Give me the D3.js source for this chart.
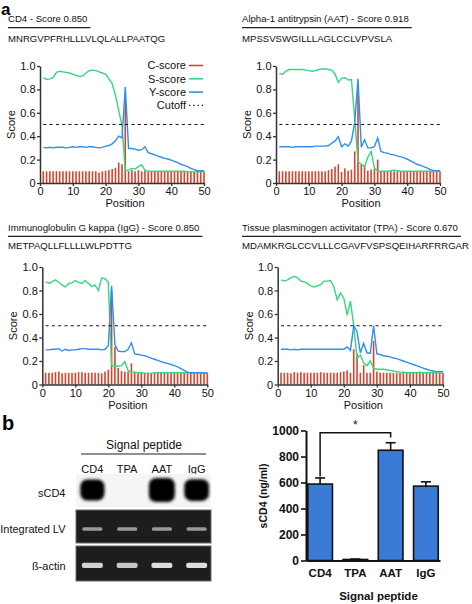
<!DOCTYPE html>
<html><head><meta charset="utf-8">
<script src="https://cdn.jsdelivr.net/npm/d3@7"></script>
<style>
body{margin:0;background:#fff;}
svg{display:block;font-family:"Liberation Sans",Arial,Helvetica,sans-serif;}
</style></head><body>
<svg id="c" width="472" height="604"></svg>
<script>
// ---------------- DATA ----------------
const positions = d3.range(1, 51);
const xTicks = [0, 10, 20, 30, 40, 50];
const yTicks = [0, 0.2, 0.4, 0.6, 0.8, 1.0];
const legendLabels = ["C-score", "S-score", "Y-score", "Cutoff"];
const cutoff = 0.5;

const cd4Title = "CD4 - Score 0.850";
const cd4Seq = "MNRGVPFRHLLLVLQLALLPAATQG";
const cd4C = [0.10,0.10,0.10,0.10,0.10,0.10,0.10,0.10,0.10,0.10,
              0.10,0.10,0.10,0.10,0.10,0.10,0.10,0.09,0.10,0.105,
              0.11,0.12,0.13,0.175,0.16,0.72,0.10,0.11,0.10,0.11,
              0.10,0.105,0.10,0.10,0.10,0.10,0.10,0.10,0.10,0.10,
              0.10,0.10,0.10,0.10,0.10,0.10,0.10,0.10,0.10,0.10];
const cd4S = [0.90,0.885,0.89,0.90,0.945,0.955,0.95,0.945,0.94,0.93,
              0.92,0.91,0.915,0.94,0.96,0.965,0.96,0.95,0.94,0.93,
              0.89,0.85,0.75,0.62,0.49,0.105,0.11,0.125,0.12,0.14,
              0.155,0.11,0.10,0.10,0.10,0.10,0.10,0.10,0.10,0.10,
              0.10,0.10,0.10,0.10,0.095,0.095,0.095,0.095,0.095,0.095];
const cd4Y = [0.305,0.30,0.305,0.30,0.305,0.305,0.305,0.30,0.305,0.31,
              0.305,0.31,0.31,0.305,0.31,0.31,0.305,0.30,0.305,0.315,
              0.32,0.335,0.36,0.40,0.385,0.82,0.295,0.295,0.29,0.28,
              0.285,0.31,0.26,0.25,0.24,0.23,0.22,0.21,0.205,0.195,
              0.185,0.175,0.16,0.15,0.14,0.125,0.115,0.105,0.105,0.105];

const aatTitle = "Alpha-1 antitrypsin (AAT) - Score 0.918";
const aatSeq = "MPSSVSWGILLLAGLCCLVPVSLA";
const aatC = [0.10,0.10,0.10,0.10,0.10,0.10,0.10,0.10,0.10,0.10,
              0.10,0.10,0.10,0.10,0.10,0.11,0.12,0.14,0.16,0.095,
              0.125,0.105,0.115,0.27,0.80,0.155,0.15,0.105,0.115,0.12,
              0.20,0.10,0.10,0.10,0.10,0.10,0.10,0.10,0.10,0.10,
              0.10,0.10,0.10,0.10,0.10,0.10,0.10,0.10,0.10,0.10];
const aatS = [0.935,0.93,0.955,0.97,0.97,0.97,0.97,0.97,0.965,0.96,
              0.955,0.96,0.97,0.975,0.975,0.97,0.965,0.93,0.86,0.895,
              0.90,0.88,0.885,0.55,0.18,0.16,0.14,0.22,0.27,0.13,
              0.10,0.10,0.10,0.10,0.105,0.11,0.105,0.10,0.10,0.10,
              0.10,0.10,0.10,0.10,0.10,0.10,0.10,0.10,0.10,0.10];
const aatY = [0.31,0.31,0.31,0.31,0.305,0.31,0.31,0.31,0.31,0.31,
              0.31,0.315,0.315,0.315,0.315,0.32,0.34,0.36,0.395,0.31,
              0.335,0.315,0.36,0.52,0.89,0.305,0.37,0.30,0.30,0.31,
              0.385,0.27,0.26,0.255,0.245,0.24,0.23,0.225,0.215,0.205,
              0.19,0.175,0.16,0.15,0.14,0.13,0.115,0.108,0.105,0.105];

const igTitle = "Immunoglobulin G kappa (IgG) - Score 0.850";
const igSeq = "METPAQLLFLLLLWLPDTTG";
const igC = [0.10,0.10,0.10,0.105,0.11,0.095,0.10,0.10,0.10,0.10,
             0.105,0.105,0.10,0.10,0.10,0.10,0.10,0.095,0.11,0.125,
             0.80,0.32,0.14,0.115,0.11,0.11,0.18,0.105,0.10,0.10,
             0.10,0.10,0.095,0.10,0.10,0.10,0.10,0.10,0.10,0.10,
             0.10,0.10,0.10,0.10,0.10,0.10,0.10,0.10,0.10,0.10];
const igS = [0.875,0.86,0.875,0.89,0.87,0.845,0.83,0.86,0.865,0.885,
             0.87,0.86,0.885,0.86,0.835,0.845,0.80,0.905,0.90,0.87,
             0.16,0.155,0.155,0.16,0.195,0.12,0.105,0.105,0.10,0.10,
             0.095,0.095,0.095,0.10,0.10,0.10,0.10,0.10,0.10,0.10,
             0.10,0.10,0.10,0.10,0.10,0.10,0.10,0.10,0.10,0.10];
const igY = [0.295,0.295,0.30,0.30,0.305,0.285,0.30,0.29,0.295,0.295,
             0.30,0.305,0.305,0.30,0.30,0.30,0.30,0.295,0.30,0.33,
             0.84,0.34,0.285,0.28,0.28,0.30,0.355,0.26,0.255,0.25,
             0.245,0.235,0.225,0.215,0.205,0.195,0.185,0.18,0.17,0.16,
             0.15,0.135,0.12,0.105,0.10,0.10,0.10,0.10,0.098,0.098];

const tpTitle = "Tissue plasminogen activitator (TPA) - Score 0.670";
const tpSeq = "MDAMKRGLCCVLLLCGAVFVSPSQEIHARFRRGAR";
const tpC = [0.10,0.10,0.10,0.095,0.105,0.10,0.105,0.10,0.10,0.10,
             0.10,0.10,0.105,0.10,0.10,0.10,0.10,0.10,0.105,0.11,
             0.12,0.10,0.30,0.265,0.10,0.165,0.10,0.10,0.37,0.11,
             0.10,0.10,0.10,0.10,0.10,0.10,0.10,0.11,0.10,0.10,
             0.10,0.10,0.11,0.10,0.10,0.10,0.10,0.10,0.10,0.10];
const tpS = [0.89,0.88,0.89,0.91,0.92,0.91,0.88,0.875,0.86,0.84,
             0.83,0.84,0.85,0.88,0.88,0.885,0.83,0.72,0.78,0.735,
             0.59,0.71,0.50,0.225,0.25,0.185,0.16,0.20,0.14,0.13,
             0.13,0.13,0.125,0.12,0.115,0.11,0.105,0.103,0.10,0.10,
             0.10,0.10,0.10,0.10,0.10,0.10,0.10,0.098,0.098,0.098];
const tpY = [0.30,0.30,0.30,0.295,0.30,0.295,0.30,0.30,0.30,0.30,
             0.30,0.30,0.30,0.30,0.30,0.30,0.30,0.30,0.30,0.30,
             0.32,0.29,0.50,0.45,0.27,0.35,0.27,0.265,0.50,0.26,
             0.255,0.245,0.24,0.235,0.225,0.22,0.21,0.20,0.19,0.18,
             0.17,0.16,0.15,0.14,0.13,0.12,0.115,0.11,0.11,0.11];

// panel b
const gelLanes = ["CD4", "TPA", "AAT", "IgG"];
const gelRows = ["sCD4", "Integrated LV", "ß-actin"];
const sCD4Signal = [0.8, 0, 1.0, 0.85];
const lvSignal = [0.55, 0.55, 0.55, 0.55];
const actinSignal = [0.8, 0.75, 0.85, 0.85];

const barCats = ["CD4", "TPA", "AAT", "IgG"];
const barVals = [588, 8, 848, 572];
const barErr = [47, 3, 58, 33];
const barTicks = [0, 200, 400, 600, 800, 1000];

// ---------------- DRAW ----------------
const svg = d3.select("#c");
const colC = "#d4462f", colS = "#35d77e", colY = "#2e8ff0";
const axisCol = "#333";

svg.append("text").attr("x", 1).attr("y", 14.5).attr("font-size", 17).attr("font-weight", "bold").text("a");
svg.append("text").attr("x", 2).attr("y", 430).attr("font-size", 20).attr("font-weight", "bold").text("b");

const panels = [
  {title: cd4Title, seq: cd4Seq, C: cd4C, S: cd4S, Y: cd4Y, tx: 8, titleY: 22.3, seqY: 42.3, x0: 40, x1: 204, yTop: 66, yBot: 183, legend: true},
  {title: aatTitle, seq: aatSeq, C: aatC, S: aatS, Y: aatY, tx: 242, titleY: 22.3, seqY: 42.3, x0: 276, x1: 440, yTop: 66, yBot: 183},
  {title: igTitle, seq: igSeq, C: igC, S: igS, Y: igY, tx: 8, titleY: 231, seqY: 248.8, x0: 42.3, x1: 207.3, yTop: 267, yBot: 384.5},
  {title: tpTitle, seq: tpSeq, C: tpC, S: tpS, Y: tpY, tx: 242, titleY: 231, seqY: 248.8, x0: 277.7, x1: 443, yTop: 267, yBot: 384.5}
];

panels.forEach(p => {
  const g = svg.append("g");
  const t = g.append("text").attr("x", p.tx).attr("y", p.titleY).attr("font-size", 9.6).attr("fill", "#111").text(p.title);
  const w = t.node().getComputedTextLength();
  g.append("line").attr("x1", p.tx).attr("x2", p.tx + w + 3).attr("y1", p.titleY + 5.3).attr("y2", p.titleY + 5.3)
    .attr("stroke", "#222").attr("stroke-width", 1.2);
  g.append("text").attr("x", p.tx).attr("y", p.seqY).attr("font-size", 9.6).attr("fill", "#111").text(p.seq);

  const x = d3.scaleLinear().domain([0, 50]).range([p.x0, p.x1]);
  const y = d3.scaleLinear().domain([0, 1]).range([p.yBot, p.yTop]);

  // C-score bars
  g.append("g").selectAll("rect").data(positions).join("rect")
    .attr("x", d => x(d) - 0.8).attr("width", 1.6)
    .attr("y", (d, i) => y(p.C[i])).attr("height", (d, i) => y(0) - y(p.C[i]))
    .attr("fill", colC);

  const line = arr => d3.line().x((d, i) => x(positions[i])).y(d => y(d))(arr);
  g.append("path").attr("d", line(p.S)).attr("fill", "none").attr("stroke", colS).attr("stroke-width", 1.4);
  g.append("path").attr("d", line(p.Y)).attr("fill", "none").attr("stroke", colY).attr("stroke-width", 1.4);

  g.append("line").attr("x1", x(1)).attr("x2", x(50)).attr("y1", y(cutoff)).attr("y2", y(cutoff))
    .attr("stroke", "#111").attr("stroke-width", 1.1).attr("stroke-dasharray", "3,3.3");

  const ay = g.append("g").attr("transform", `translate(${p.x0},0)`)
    .call(d3.axisLeft(y).tickValues(yTicks).tickFormat(d => d === 0 ? "0" : d.toFixed(1)).tickSize(3).tickPadding(1.5).tickSizeOuter(0));
  const ax = g.append("g").attr("transform", `translate(0,${p.yBot})`)
    .call(d3.axisBottom(x).tickValues(xTicks).tickSize(3).tickPadding(1.5).tickSizeOuter(0));
  [ay, ax].forEach(a => {
    a.select(".domain").attr("stroke", axisCol).attr("stroke-width", 1.5);
    a.selectAll(".tick line").attr("stroke", axisCol).attr("stroke-width", 1.3);
    a.selectAll("text").attr("font-size", 11).attr("fill", "#111").attr("font-family", null);
  });
  g.append("text").attr("transform", `translate(${p.x0 - 29},${(p.yTop + p.yBot) / 2}) rotate(-90)`)
    .attr("text-anchor", "middle").attr("dy", "0.35em").attr("font-size", 11).attr("fill", "#111").text("Score");
  g.append("text").attr("x", (p.x0 + p.x1) / 2 + 3).attr("y", p.yBot + 24)
    .attr("text-anchor", "middle").attr("font-size", 11).attr("fill", "#111").text("Position");

  if (p.legend) {
    const cols = [colC, colS, colY, "#111"];
    legendLabels.forEach((lab, i) => {
      const ly = 65.5 + i * 13.3;
      g.append("text").attr("x", 186).attr("y", ly).attr("dy", "0.35em").attr("text-anchor", "end")
        .attr("font-size", 11).attr("fill", "#111").text(lab);
      g.append("line").attr("x1", 189).attr("x2", 203).attr("y1", ly).attr("y2", ly)
        .attr("stroke", cols[i]).attr("stroke-width", i === 3 ? 1.2 : 1.6)
        .attr("stroke-dasharray", i === 3 ? "1.3,3" : null);
    });
  }
});

// ---------------- GEL ----------------
const defs = svg.append("defs");
defs.append("filter").attr("id", "blob").attr("x", "-50%").attr("y", "-50%").attr("width", "200%").attr("height", "200%")
  .append("feGaussianBlur").attr("stdDeviation", 1.4);
defs.append("filter").attr("id", "band").attr("x", "-50%").attr("y", "-100%").attr("width", "200%").attr("height", "300%")
  .append("feGaussianBlur").attr("stdDeviation", 0.7);

const lane = d3.scaleBand().domain(gelLanes).range([75, 214]);
const gel = svg.append("g");
gel.append("text").attr("x", 144).attr("y", 449).attr("text-anchor", "middle").attr("font-size", 12).attr("fill", "#111").text("Signal peptide");
gel.append("line").attr("x1", 81).attr("x2", 206).attr("y1", 454).attr("y2", 454).attr("stroke", "#222").attr("stroke-width", 1.2);
gel.selectAll("text.lane").data(gelLanes).join("text").attr("class", "lane")
  .attr("x", d => lane(d) + lane.bandwidth() / 2).attr("y", 472.5).attr("text-anchor", "middle")
  .attr("font-size", 11).attr("fill", "#111").text(d => d);
const rowY = [496.5, 532.8, 570];
gel.selectAll("text.row").data(gelRows).join("text").attr("class", "row")
  .attr("x", 65.5).attr("y", (d, i) => rowY[i]).attr("text-anchor", "end")
  .attr("font-size", 11).attr("fill", "#111").text(d => d);

// sCD4 blot
gel.append("rect").attr("x", 76).attr("y", 474).attr("width", 135).attr("height", 33).attr("fill", "#f5f5f5");
const blobW = v => 17 + 9 * v, blobH = v => 9 + 15 * v;
gel.selectAll("rect.blob").data(gelLanes).join("rect").attr("class", "blob")
  .attr("x", (d, i) => lane(d) + lane.bandwidth() / 2 - blobW(sCD4Signal[i]) / 2)
  .attr("y", (d, i) => 490 - blobH(sCD4Signal[i]) / 2)
  .attr("width", (d, i) => sCD4Signal[i] > 0 ? blobW(sCD4Signal[i]) : 0)
  .attr("height", (d, i) => sCD4Signal[i] > 0 ? blobH(sCD4Signal[i]) : 0)
  .attr("rx", 7).attr("fill", "#050505").attr("filter", "url(#blob)");

// Integrated LV gel
const bandCol = v => d3.interpolateRgb("#1d1d1d", "#ffffff")(v);
gel.append("rect").attr("x", 76).attr("y", 510).attr("width", 135).attr("height", 33)
  .attr("fill", "#1d1d1d").attr("stroke", "#6a6a6a").attr("stroke-width", 1);
gel.selectAll("rect.lv").data(gelLanes).join("rect").attr("class", "lv")
  .attr("x", d => lane(d) + lane.bandwidth() / 2 - 10).attr("width", 20)
  .attr("y", 527.3).attr("height", 3.4).attr("rx", 1.5)
  .attr("fill", (d, i) => bandCol(lvSignal[i])).attr("filter", "url(#band)");

// beta-actin gel
gel.append("rect").attr("x", 76).attr("y", 546).attr("width", 135).attr("height", 35)
  .attr("fill", "#1d1d1d").attr("stroke", "#6a6a6a").attr("stroke-width", 1);
gel.selectAll("rect.act").data(gelLanes).join("rect").attr("class", "act")
  .attr("x", d => lane(d) + lane.bandwidth() / 2 - 10.5).attr("width", 21)
  .attr("y", 562.8).attr("height", 5.2).attr("rx", 2)
  .attr("fill", (d, i) => bandCol(actinSignal[i])).attr("filter", "url(#band)");

// ---------------- BAR CHART ----------------
const by = d3.scaleLinear().domain([0, 1000]).range([560.5, 430.5]);
const bx = d3.scaleBand().domain(barCats).range([306, 440]).paddingInner(0.3).paddingOuter(0.05);
const bc = svg.append("g");

bc.selectAll("rect.bar").data(barCats).join("rect").attr("class", "bar")
  .attr("x", d => bx(d)).attr("width", bx.bandwidth())
  .attr("y", (d, i) => by(barVals[i])).attr("height", (d, i) => by(0) - by(barVals[i]))
  .attr("fill", "#3b7bd8").attr("stroke", "#111").attr("stroke-width", 1.6);
// error bars
barCats.forEach((c, i) => {
  const cx = bx(c) + bx.bandwidth() / 2;
  bc.append("line").attr("x1", cx).attr("x2", cx).attr("y1", by(barVals[i])).attr("y2", by(barVals[i] + barErr[i]))
    .attr("stroke", "#111").attr("stroke-width", 1.6);
  bc.append("line").attr("x1", cx - 5).attr("x2", cx + 5).attr("y1", by(barVals[i] + barErr[i])).attr("y2", by(barVals[i] + barErr[i]))
    .attr("stroke", "#111").attr("stroke-width", 1.6);
});

const byAx = bc.append("g").attr("transform", "translate(306,0)")
  .call(d3.axisLeft(by).tickValues(barTicks).tickFormat(d3.format("d")).tickSize(5).tickPadding(2).tickSizeOuter(0));
byAx.select(".domain").attr("stroke", "#111").attr("stroke-width", 2);
byAx.selectAll(".tick line").attr("stroke", "#111").attr("stroke-width", 1.6);
byAx.selectAll("text").attr("font-size", 12).attr("font-weight", "bold").attr("fill", "#111").attr("font-family", null);

const bxAx = bc.append("g").attr("transform", "translate(0,560.5)")
  .call(d3.axisBottom(bx).tickSize(0).tickPadding(8).tickSizeOuter(0));
bxAx.select(".domain").attr("stroke", "#111").attr("stroke-width", 2);
bxAx.selectAll("text").attr("font-size", 11.5).attr("font-weight", "bold").attr("fill", "#111").attr("font-family", null);

// significance bracket
const c1 = bx("CD4") + bx.bandwidth() / 2, c3 = bx("AAT") + bx.bandwidth() / 2;
bc.append("path")
  .attr("d", `M${c1},${by(barVals[0] + barErr[0]) - 1.5}V432.7H${c3}V437.5`)
  .attr("fill", "none").attr("stroke", "#111").attr("stroke-width", 1.5);
bc.append("text").attr("x", (c1 + c3) / 2).attr("y", 429).attr("text-anchor", "middle")
  .attr("font-size", 12).attr("fill", "#111").text("*");

bc.append("text").attr("transform", "translate(263.5,496) rotate(-90)").attr("text-anchor", "middle").attr("dy", "0.35em")
  .attr("font-size", 10.5).attr("font-weight", "bold").attr("fill", "#111").text("sCD4 (ng/ml)");
bc.append("text").attr("x", 378.5).attr("y", 600).attr("text-anchor", "middle")
  .attr("font-size", 11.5).attr("font-weight", "bold").attr("fill", "#111").text("Signal peptide");
</script>
</body></html>
